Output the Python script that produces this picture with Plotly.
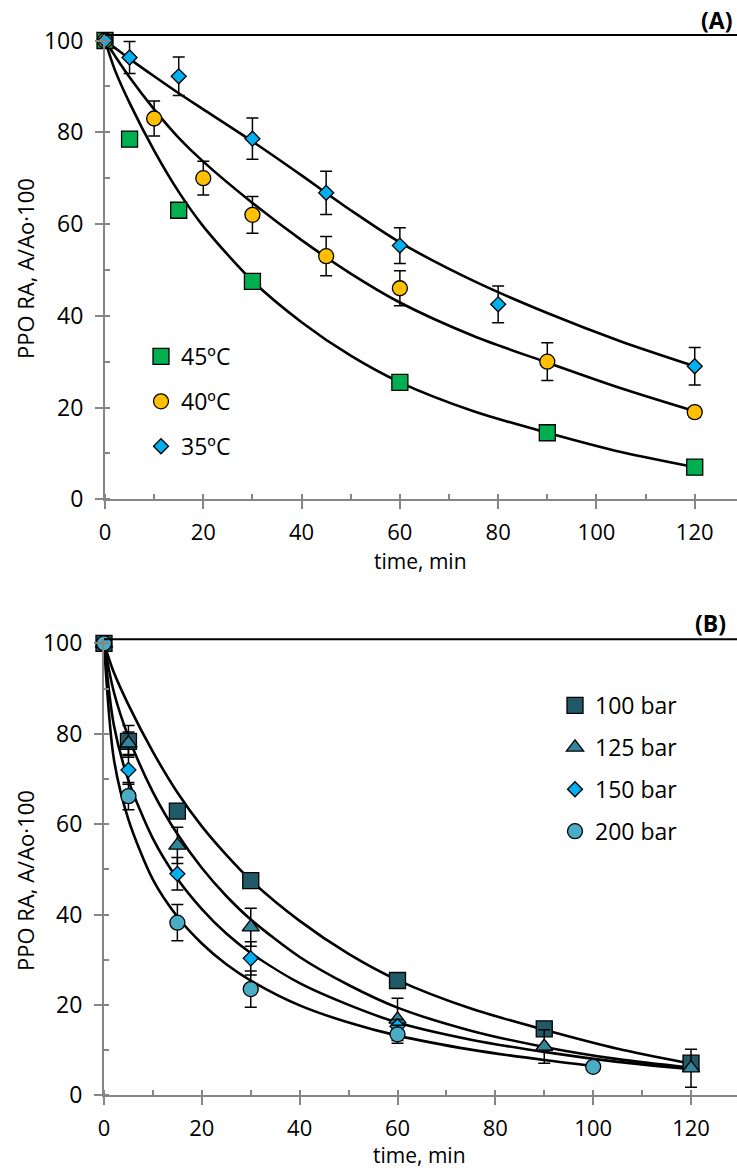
import plotly.graph_objects as go

# ---------------- data ----------------
# Panel A: temperature effect
t_45 = [0, 5, 15, 30, 60, 90, 120]
y_45 = [100, 78.5, 63.0, 47.5, 25.5, 14.5, 7.0]
e_45 = [0, 1.0, 1.0, 1.0, 1.0, 0.8, 0.8]

t_40 = [0, 10, 20, 30, 45, 60, 90, 120]
y_40 = [100, 83.0, 70.0, 62.0, 53.0, 46.0, 30.0, 19.0]
e_40 = [0, 3.8, 3.7, 4.0, 4.3, 3.8, 4.1, 1.0]

t_35 = [0, 5, 15, 30, 45, 60, 80, 120]
y_35 = [100, 96.3, 92.2, 78.6, 66.8, 55.3, 42.5, 29.0]
e_35 = [0, 3.5, 4.2, 4.5, 4.7, 3.9, 4.0, 4.1]

# fitted curves, panel A
t_fitA = [0, 2, 5, 10, 15, 20, 30, 40, 50, 60, 75, 90, 105, 120]
fit_45 = [100, 93.6, 86.4, 76.0, 67.0, 59.5, 47.6, 38.6, 31.3, 25.5, 19.2, 14.5, 10.3, 7.0]
fit_40 = [100, 96.7, 92.0, 85.0, 78.8, 73.6, 64.6, 56.5, 49.2, 42.9, 35.6, 29.8, 24.2, 19.2]
fit_35 = [100, 98.4, 96.0, 92.2, 88.5, 85.0, 78.0, 70.6, 63.0, 56.0, 47.6, 40.6, 34.4, 29.0]

# Panel B: pressure effect
t_100 = [0, 5, 15, 30, 60, 90, 120]
y_100 = [100, 78.3, 62.9, 47.5, 25.4, 14.7, 7.1]
e_100 = [0, 3.5, 1.0, 1.0, 1.0, 1.0, 1.0]

t_125 = [0, 5, 15, 30, 60, 90, 120]
y_125 = [100, 77.9, 55.3, 37.2, 16.8, 10.8, 6.0]
e_125 = [0, 2.5, 4.0, 4.2, 4.7, 3.7, 4.2]

t_150 = [0, 5, 15, 30, 60]
y_150 = [100, 72.0, 49.0, 30.3, 15.3]
e_150 = [0, 3.2, 3.6, 3.7, 1.5]

t_200 = [0, 5, 15, 30, 60, 100]
y_200 = [100, 66.2, 38.2, 23.5, 13.5, 6.3]
e_200 = [0, 3.0, 4.0, 4.0, 2.0, 1.0]

# fitted curves, panel B
t_fitB = [0, 2, 5, 10, 15, 20, 25, 30, 40, 50, 60, 75, 90, 105, 120]
fit_100 = [100, 93.6, 86.4, 76.0, 67.0, 59.5, 53.2, 47.6, 38.6, 31.3, 25.5, 19.2, 14.5, 10.3, 7.0]
fit_125 = [100, 89.3, 79.3, 67.1, 57.8, 50.3, 44.1, 38.9, 30.6, 24.4, 19.4, 14.3, 10.7, 8.0, 6.1]
fit_150 = [100, 82.0, 69.7, 56.8, 47.9, 41.2, 35.8, 31.5, 24.8, 20.0, 16.1, 12.3, 9.6, 7.4, 5.8]
t_fit200 = [0, 2, 5, 10, 15, 20, 25, 30, 40, 50, 60, 75, 90, 100]
fit_200 = [100, 74.5, 61.0, 47.7, 39.5, 33.6, 29.0, 25.4, 19.9, 16.1, 13.2, 10.1, 7.8, 6.5]

x_ticks = [0, 20, 40, 60, 80, 100, 120]
y_ticks = [0, 20, 40, 60, 80, 100]

# ---------------- styling ----------------
W, H = 737, 1171
FONT = "Open Sans"
AX = "#868686"

def fy(p):
    return 1 - p / H

fig = go.Figure()

def curve(t, y, xa, ya):
    fig.add_trace(go.Scatter(x=t, y=y, mode="lines", xaxis=xa, yaxis=ya,
                             line=dict(color="black", width=2.6, shape="spline", smoothing=0.8),
                             showlegend=False, hoverinfo="skip", cliponaxis=False))

def points(t, y, e, name, sym, size, color, xa, ya, legend):
    fig.add_trace(go.Scatter(x=t, y=y, mode="markers", name=name, xaxis=xa, yaxis=ya,
                             legend=legend, legendgroup=name,
                             marker=dict(symbol=sym, size=size, color=color,
                                         line=dict(color="black", width=1.3)),
                             error_y=dict(type="data", array=e, visible=True,
                                          color="black", thickness=1.5, width=6),
                             cliponaxis=False))

# panel A
curve(t_fitA, fit_45, "x", "y")
curve(t_fitA, fit_40, "x", "y")
curve(t_fitA, fit_35, "x", "y")
points(t_45, y_45, e_45, "45ºC", "square", 16, "#00B050", "x", "y", "legend")
points(t_40, y_40, e_40, "40ºC", "circle", 15, "#FFC000", "x", "y", "legend")
points(t_35, y_35, e_35, "35ºC", "diamond", 11.5, "#00B0F0", "x", "y", "legend")

# panel B
curve(t_fitB, fit_100, "x2", "y2")
curve(t_fitB, fit_125, "x2", "y2")
curve(t_fitB, fit_150, "x2", "y2")
curve(t_fit200, fit_200, "x2", "y2")
points(t_100, y_100, e_100, "100 bar", "square", 16, "#215968", "x2", "y2", "legend2")
points(t_125, y_125, e_125, "125 bar", "triangle-up", 15, "#31859C", "x2", "y2", "legend2")
points(t_150, y_150, e_150, "150 bar", "diamond", 11.5, "#00B0F0", "x2", "y2", "legend2")
points(t_200, y_200, e_200, "200 bar", "circle", 15, "#4BACC6", "x2", "y2", "legend2")

# invisible traces to activate the overlay tick axes
fig.add_trace(go.Scatter(x=[None], y=[None], xaxis="x3", yaxis="y3", showlegend=False, hoverinfo="skip"))
fig.add_trace(go.Scatter(x=[None], y=[None], xaxis="x4", yaxis="y4", showlegend=False, hoverinfo="skip"))

def main_x(dom, rng, anchor):
    return dict(domain=dom, range=rng, anchor=anchor, showline=True, linecolor=AX, linewidth=2,
                ticks="outside", ticklen=8, tickwidth=1.7, tickcolor=AX,
                tickmode="array", tickvals=x_ticks,
                minor=dict(ticks="inside", dtick=10, tick0=0, ticklen=5, tickwidth=1.7, tickcolor=AX),
                tickfont=dict(family=FONT, size=22, color="black"),
                showgrid=False, zeroline=False, ticklabelstandoff=4, automargin=False)

def main_y(dom, rng, anchor):
    return dict(domain=dom, range=rng, anchor=anchor, showline=True, linecolor=AX, linewidth=2,
                ticks="outside", ticklen=8, tickwidth=1.7, tickcolor=AX,
                tickmode="array", tickvals=y_ticks,
                minor=dict(ticks="inside", dtick=10, tick0=0, ticklen=5, tickwidth=1.7, tickcolor=AX),
                tickfont=dict(family=FONT, size=23, color="black"),
                showgrid=False, zeroline=False, ticklabelstandoff=7, automargin=False)

def over_axis(base, rng, anchor, side):
    return dict(overlaying=base, range=rng, anchor=anchor, side=side, showline=False,
                ticks="inside", ticklen=5, tickwidth=1.7, tickcolor=AX,
                tickmode="array", tickvals=x_ticks if base.startswith("x") else y_ticks,
                showticklabels=False, showgrid=False, zeroline=False, automargin=False)

xA = [0, 128.6]
yA = [0, 101.2]
xB = [0, 129.4]
yB = [0, 100.9]

fig.update_layout(
    width=W, height=H, margin=dict(l=0, r=0, t=0, b=0, autoexpand=False),
    paper_bgcolor="white", plot_bgcolor="white",
    font=dict(family=FONT, size=23, color="black"),
    xaxis=main_x([105 / W, 1], xA, "y"),
    yaxis=main_y([fy(499.3), fy(35)], yA, "x"),
    xaxis2=main_x([104 / W, 1], xB, "y2"),
    yaxis2=main_y([fy(1095.3), fy(639.3)], yB, "x2"),
    xaxis3=over_axis("x", xA, "y", "bottom"),
    yaxis3=over_axis("y", yA, "x", "left"),
    xaxis4=over_axis("x2", xB, "y2", "bottom"),
    yaxis4=over_axis("y2", yB, "x2", "left"),
    legend=dict(x=141 / W, y=fy(335), xanchor="left", yanchor="top",
                bgcolor="rgba(0,0,0,0)", font=dict(family=FONT, size=23, color="black"),
                traceorder="grouped", tracegroupgap=12, borderwidth=0),
    legend2=dict(x=555 / W, y=fy(684), xanchor="left", yanchor="top",
                 bgcolor="rgba(0,0,0,0)", font=dict(family=FONT, size=23, color="black"),
                 traceorder="grouped", tracegroupgap=9, borderwidth=0),
    shapes=[
        dict(type="line", xref="x domain", yref="y domain", x0=0, x1=1, y0=1, y1=1,
             line=dict(color="black", width=2)),
        dict(type="line", xref="x2 domain", yref="y2 domain", x0=0, x1=1, y0=1, y1=1,
             line=dict(color="black", width=2)),
    ],
    annotations=[
        dict(text="<b>(A)</b>", xref="paper", yref="paper", x=734 / W, y=fy(20),
             xanchor="right", yanchor="middle", showarrow=False, font=dict(size=23)),
        dict(text="<b>(B)</b>", xref="paper", yref="paper", x=728 / W, y=fy(623),
             xanchor="right", yanchor="middle", showarrow=False, font=dict(size=23)),
        dict(text="time, min", xref="paper", yref="paper", x=421 / W, y=fy(561),
             xanchor="center", yanchor="middle", showarrow=False, font=dict(size=21)),
        dict(text="time, min", xref="paper", yref="paper", x=420 / W, y=fy(1170.5),
             xanchor="center", yanchor="bottom", showarrow=False, font=dict(size=21)),
        dict(text="PPO RA, A/Ao·100", xref="paper", yref="paper", x=25 / W, y=fy(269),
             xanchor="center", yanchor="middle", textangle=-90, showarrow=False, font=dict(size=22)),
        dict(text="PPO RA, A/Ao·100", xref="paper", yref="paper", x=25 / W, y=fy(881),
             xanchor="center", yanchor="middle", textangle=-90, showarrow=False, font=dict(size=22)),
    ],
)

fig.write_html("out.html")
